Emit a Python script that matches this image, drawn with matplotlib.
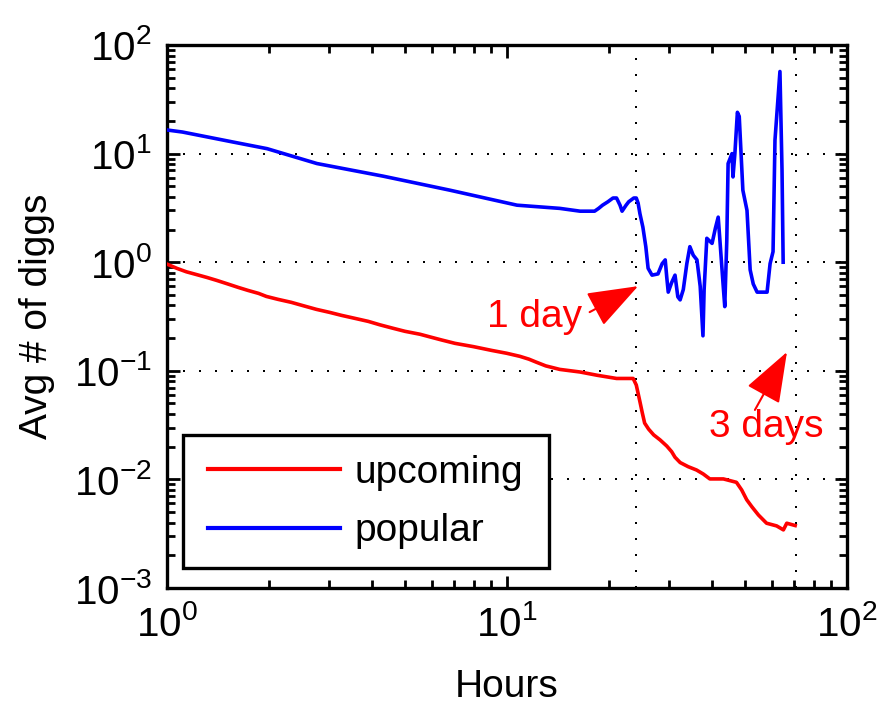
import matplotlib
matplotlib.use("Agg")
import matplotlib.pyplot as plt
from matplotlib import font_manager
from matplotlib.patches import Rectangle

names = {f.name for f in font_manager.fontManager.ttflist}
TXT = 'Liberation Sans' if 'Liberation Sans' in names else 'DejaVu Sans'
NUM = 'Liberation Sans Narrow' if 'Liberation Sans Narrow' in names else TXT

plt.rcParams['font.family'] = [TXT, 'DejaVu Sans']
plt.rcParams['mathtext.fontset'] = 'custom'
for k in ('rm', 'it', 'bf', 'sf'):
    plt.rcParams['mathtext.' + k] = NUM
plt.rcParams['mathtext.default'] = 'rm'
plt.rcParams['axes.unicode_minus'] = False

# ---- data ----
upcoming_hours = [1.0, 1.07, 1.14, 1.22, 1.31, 1.4, 1.51, 1.62, 1.73, 1.86, 1.96, 2.12, 2.32,
                  2.52, 2.75, 3.01, 3.26, 3.57, 3.91, 4.23, 4.63, 5.01, 5.55, 5.94, 6.43, 7.03,
                  7.96, 9.02, 9.98, 10.9, 11.6, 12.2, 13.0, 14.3, 16.4, 18.4, 21.0, 23.5, 24.0,
                  24.3, 24.6, 25.0, 25.4, 26.1, 27.0, 28.2, 29.5, 30.5, 31.2, 32.3, 34.1, 36.1,
                  37.8, 39.5, 43.3, 47.3, 49.0, 50.7, 52.5, 54.9, 58.0, 62.1, 65.0, 66.5, 70.4]
upcoming_diggs = [0.96, 0.877, 0.816, 0.77, 0.724, 0.68, 0.63, 0.586, 0.55, 0.516, 0.484, 0.455,
                  0.427, 0.397, 0.368, 0.345, 0.324, 0.304, 0.285, 0.265, 0.246, 0.231, 0.217,
                  0.205, 0.192, 0.179, 0.167, 0.154, 0.145, 0.136, 0.128, 0.12, 0.111, 0.103,
                  0.0975, 0.091, 0.085, 0.085, 0.074, 0.062, 0.052, 0.041, 0.033, 0.029, 0.0257,
                  0.0231, 0.0203, 0.018, 0.016, 0.0143, 0.0131, 0.0122, 0.0112, 0.0101, 0.0101,
                  0.0094, 0.0080, 0.0065, 0.0056, 0.0047, 0.00395, 0.00373, 0.00343, 0.00395,
                  0.00376]

popular_hours = [1.0, 1.11, 1.56, 1.97, 2.76, 4.32, 6.8, 10.7, 14.3, 16.4, 18.1, 18.6, 19.1,
                 19.8, 20.5, 21.0, 21.5, 21.8, 22.4, 22.8, 23.6, 24.0, 24.3, 24.6, 25.1, 25.6,
                 26.0, 26.7, 27.8, 28.6, 29.2, 29.5, 29.8, 30.5, 31.2, 31.8, 32.3, 33.0, 33.8,
                 34.5, 35.3, 36.2, 37.0, 37.7, 38.0, 38.7, 40.1, 41.0, 41.8, 42.3, 43.2, 43.7,
                 44.3, 44.7, 45.9, 46.2, 46.8, 47.6, 48.2, 48.6, 49.4, 50.8, 51.9, 53.0, 54.4,
                 58.2, 59.4, 60.6, 61.4, 63.5, 64.4, 64.9]
popular_diggs = [16.5, 15.8, 12.8, 11.1, 8.1, 6.2, 4.6, 3.35, 3.13, 2.95, 2.95, 3.13, 3.35,
                 3.6, 3.9, 3.9, 3.35, 2.95, 3.35, 3.6, 3.9, 3.9, 3.5, 2.8, 2.1, 1.39,
                 0.88, 0.76, 0.78, 0.97, 1.05, 0.73, 0.53, 0.65, 0.76, 0.48, 0.45, 0.56, 0.97,
                 1.39, 1.16, 1.05, 0.6, 0.21, 0.56, 1.66, 1.49, 2.05, 2.6, 1.57, 0.63, 0.39,
                 1.57, 8.1, 10.0, 6.1, 10.0, 24.0, 22.0, 13.0, 4.6, 3.0, 0.85, 0.63, 0.53,
                 0.53, 0.97, 1.25, 13.3, 57.0, 7.0, 1.0]

marker_hours = [24, 71]          # 1 day, 3 days
series_labels = ['upcoming', 'popular']
series_colors = ['red', 'blue']

# ---- figure ----
W, H = 886, 711
fig = plt.figure(figsize=(W / 100, H / 100), dpi=100)
L, R, T, B = 167, 847, 45, 588
ax = fig.add_axes([L / W, (H - B) / H, (R - L) / W, (B - T) / H])
ax.set_xscale('log')
ax.set_yscale('log')
ax.set_xlim(1, 100)
ax.set_ylim(1e-3, 1e2)

dot = (0, (1, 7))
ax.yaxis.grid(True, which='major', linestyle=dot, color='black', linewidth=1.44)
ax.xaxis.grid(False)
for h in marker_hours:
    ax.axvline(h, linestyle=dot, color='black', linewidth=1.44, zorder=1.5)

ax.plot(upcoming_hours, upcoming_diggs, color=series_colors[0], lw=2.6,
        label=series_labels[0], zorder=3)
ax.plot(popular_hours, popular_diggs, color=series_colors[1], lw=2.6,
        label=series_labels[1], zorder=3)

for s in ax.spines.values():
    s.set_linewidth(2.4)
ax.tick_params(which='both', direction='in', top=True, right=True, width=2)
ax.tick_params(which='major', length=9, labelsize=29)
ax.tick_params(axis='x', which='major', pad=12)
ax.tick_params(axis='y', which='major', pad=11)
ax.tick_params(which='minor', length=6)

ax.set_xlabel('Hours', fontsize=28)
ax.set_ylabel('Avg # of diggs', fontsize=28)
ax.xaxis.set_label_coords(0.5, -0.15)
ax.yaxis.set_label_coords(-0.165, 0.5)

# legend box
ax.add_patch(Rectangle((0.0235, 0.0368), 0.538, 0.245, transform=ax.transAxes,
                       facecolor='white', edgecolor='black', lw=2.4, zorder=4))
leg = ax.legend(loc='upper left', bbox_to_anchor=(0.0603, 0.245), frameon=False,
                borderpad=0, handlelength=3.4, handletextpad=0.36, labelspacing=0.57,
                fontsize=28, borderaxespad=0)
for ln in leg.get_lines():
    ln.set_linewidth(3.0)
leg.set_zorder(5)

# annotations
ax.text(12.05, 0.253, '1 day', color='red', fontsize=28, ha='center', va='baseline', zorder=6)
ax.annotate('', xy=(24.3, 0.602), xytext=(17.5, 0.347),
            arrowprops=dict(arrowstyle='-|>,head_length=3.2,head_width=1.17', mutation_scale=10,
                            color='red', lw=1.5, shrinkA=0, shrinkB=0), zorder=6)
ax.text(57.8, 0.0246, '3 days', color='red', fontsize=28, ha='center', va='baseline', zorder=6)
ax.annotate('', xy=(66.6, 0.149), xytext=(53.6, 0.0436),
            arrowprops=dict(arrowstyle='-|>,head_length=3.2,head_width=1.17', mutation_scale=10,
                            color='red', lw=1.5, shrinkA=0, shrinkB=0), zorder=6)

fig.savefig('out.png', dpi=100)
